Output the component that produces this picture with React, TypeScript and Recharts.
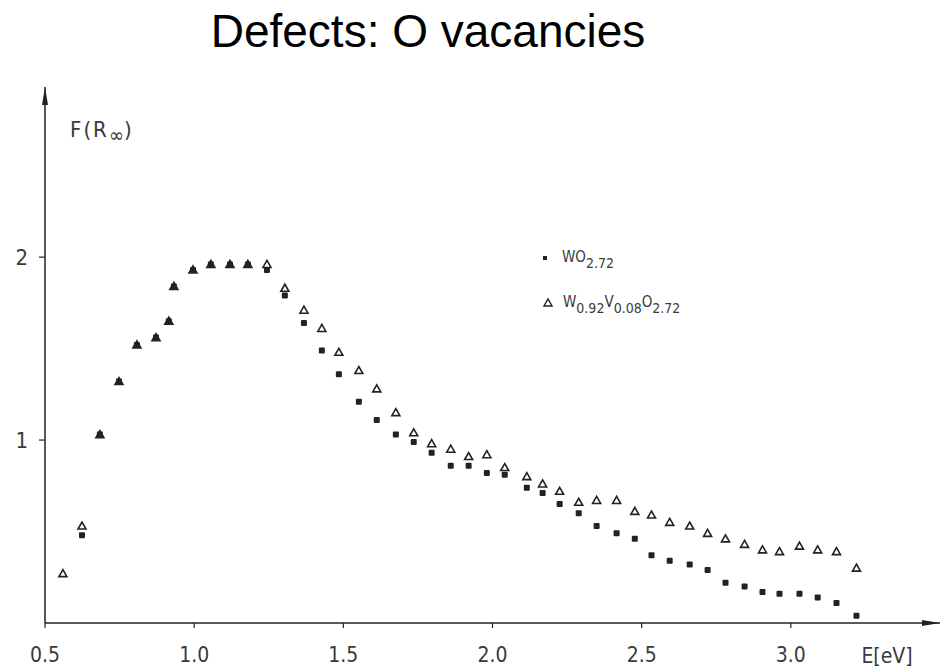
import { ScatterChart, Scatter, XAxis, YAxis, Legend } from 'recharts';

// photon energy E [eV] of each measured point
const energy = [
    0.56, 0.624, 0.684, 0.748, 0.808, 0.872, 0.915, 0.932, 0.996, 1.056,
    1.12, 1.18, 1.244, 1.304, 1.368, 1.428, 1.485, 1.552, 1.612, 1.676,
    1.736, 1.796, 1.86, 1.92, 1.981, 2.041, 2.115, 2.168, 2.225, 2.289,
    2.349, 2.416, 2.477, 2.533, 2.594, 2.661, 2.721, 2.781, 2.845, 2.905,
    2.962, 3.029, 3.09, 3.153, 3.22,
];

// F(R∞) for WO2.72 (filled squares)
const woValues = [
    null, 0.48, 1.03, 1.32, 1.52, 1.56, 1.65, 1.84, 1.93, 1.96,
    1.96, 1.96, 1.93, 1.79, 1.64, 1.49, 1.36, 1.21, 1.11, 1.03,
    0.99, 0.93, 0.86, 0.86, 0.82, 0.81, 0.74, 0.71, 0.65, 0.6,
    0.53, 0.49, 0.46, 0.37, 0.34, 0.32, 0.29, 0.22, 0.2, 0.17,
    0.16, 0.16, 0.14, 0.11, 0.04,
];

// F(R∞) for W0.92V0.08O2.72 (open triangles)
const wvoValues = [
    0.27, 0.53, 1.03, 1.32, 1.52, 1.56, 1.65, 1.84, 1.93, 1.96,
    1.96, 1.96, 1.96, 1.83, 1.71, 1.61, 1.48, 1.38, 1.28, 1.15,
    1.04, 0.98, 0.95, 0.91, 0.92, 0.85, 0.8, 0.76, 0.72, 0.66,
    0.67, 0.67, 0.61, 0.59, 0.55, 0.53, 0.49, 0.46, 0.43, 0.4,
    0.39, 0.42, 0.4, 0.39, 0.3,
];

const xTicks = [0.5, 1.0, 1.5, 2.0, 2.5, 3.0];
const yTicks = [1, 2];

const toPoints = (values: (number | null)[]) =>
    energy
        .map((x, i) => ({ x, y: values[i] }))
        .filter((p) => p.y !== null);

const woData = toPoints(woValues);
const wvoData = toPoints(wvoValues);

const INK = '#222';
const LABEL = '#3a3a3a';
const LABEL_FONT = '"DejaVu Sans Condensed", "DejaVu Sans", sans-serif';

const SquareDot = (props: any) => {
    const { cx, cy } = props;
    if (cx == null || cy == null) return null;
    return <rect x={cx - 3} y={cy - 3} width={6} height={6} rx={1} fill={INK} />;
};

const TriangleDot = (props: any) => {
    const { cx, cy } = props;
    if (cx == null || cy == null) return null;
    return (
        <polygon
            points={`${cx - 4},${cy + 3} ${cx + 4},${cy + 3} ${cx},${cy - 4}`}
            fill="none"
            stroke={INK}
            strokeWidth={1.6}
        />
    );
};

const LegendBox = () => (
    <svg width={220} height={80} style={{ fontFamily: LABEL_FONT, display: 'block' }}>
        <rect x={5} y={12} width={4} height={4} fill={INK} />
        <text x={24} y={18} fontSize={15} fill={LABEL}>
            WO
            <tspan dy={6} fontSize={14}>2.72</tspan>
        </text>
        <polygon points="6,62 14,62 10,55" fill="none" stroke={INK} strokeWidth={1.4} />
        <text x={25} y={63} fontSize={15} fill={LABEL}>
            W<tspan dy={6} fontSize={14}>0.92</tspan>
            <tspan dy={-6}>V</tspan>
            <tspan dy={6} fontSize={14}>0.08</tspan>
            <tspan dy={-6}>O</tspan>
            <tspan dy={6} fontSize={14}>2.72</tspan>
        </text>
    </svg>
);

export default function App() {
    return (
        <div style={{ position: 'absolute', left: 0, top: 0, width: 949, height: 672, background: '#fff' }}>
            <ScatterChart width={949} height={672} margin={{ top: 87, right: 9, bottom: 0, left: 0 }}>
                <defs>
                    <marker
                        id="axisArrow"
                        viewBox="0 0 18 6"
                        refX={18}
                        refY={3}
                        markerWidth={18}
                        markerHeight={6}
                        markerUnits="userSpaceOnUse"
                        orient="auto-start-reverse"
                    >
                        <path d="M0,0 L18,3 L0,6 z" fill={INK} />
                    </marker>
                </defs>
                <text
                    x={428}
                    y={47}
                    textAnchor="middle"
                    fontSize={46}
                    fontFamily='"Liberation Sans", Arial, sans-serif'
                    fill="#000"
                >
                    Defects: O vacancies
                </text>
                <text x={70} y={137} fontSize={22} fill={LABEL} fontFamily={LABEL_FONT} letterSpacing={2}>
                    F(R<tspan dy={5} fontSize={20} letterSpacing={0}>∞</tspan>
                    <tspan dy={-5}>)</tspan>
                </text>
                <text x={887} y={663} textAnchor="middle" fontSize={21} fill={LABEL} fontFamily={LABEL_FONT}>
                    E[eV]
                </text>
                <XAxis
                    type="number"
                    dataKey="x"
                    domain={[0.5, 3.5]}
                    ticks={xTicks}
                    tickFormatter={(v: number) => v.toFixed(1)}
                    height={49}
                    tickSize={5}
                    tickMargin={19}
                    axisLine={{ stroke: INK, strokeWidth: 1.5, markerEnd: 'url(#axisArrow)' }}
                    tickLine={{ stroke: INK, strokeWidth: 1.2 }}
                    tick={{ fill: LABEL, fontSize: 21, fontFamily: LABEL_FONT }}
                    allowDataOverflow
                />
                <YAxis
                    type="number"
                    dataKey="y"
                    domain={[0, 2.93]}
                    ticks={yTicks}
                    width={45}
                    tickSize={6}
                    tickMargin={11}
                    axisLine={{ stroke: INK, strokeWidth: 1.5, markerStart: 'url(#axisArrow)' }}
                    tickLine={{ stroke: INK, strokeWidth: 1.2 }}
                    tick={{ fill: LABEL, fontSize: 22, fontFamily: LABEL_FONT }}
                    allowDataOverflow
                />
                <Legend
                    layout="horizontal"
                    align="center"
                    verticalAlign="middle"
                    content={() => <LegendBox />}
                    wrapperStyle={{ left: 538, top: 244, width: 220, height: 80 }}
                />
                <Scatter name="WO2.72" data={woData} shape={SquareDot} isAnimationActive={false} />
                <Scatter name="W0.92V0.08O2.72" data={wvoData} shape={TriangleDot} isAnimationActive={false} />
            </ScatterChart>
        </div>
    );
}
